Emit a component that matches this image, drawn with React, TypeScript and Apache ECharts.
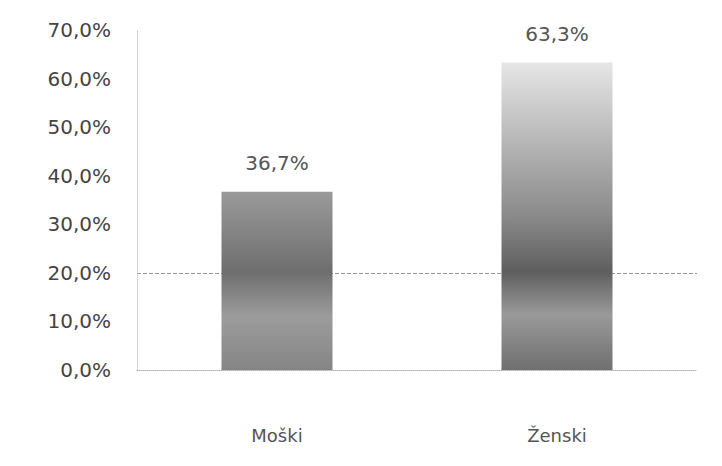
import React, { useEffect, useRef } from "react";
import * as echarts from "echarts";

const categories = ["Moški", "Ženski"];
const values = [36.7, 63.3];
const yTicks = [0, 10, 20, 30, 40, 50, 60, 70];
const gridValue = 20;

const fmt = (v: number) => v.toFixed(1).replace(".", ",") + "%";

export default function App() {
  const ref = useRef<HTMLDivElement>(null);
  useEffect(() => {
    if (!ref.current) return;
    const chart = echarts.init(ref.current, null, { renderer: "svg" });
    const barColors = [
      new echarts.graphic.LinearGradient(0, 0, 0, 1, [
        { offset: 0, color: "#9a9a9a" },
        { offset: 0.45, color: "#6e6e6e" },
        { offset: 0.7, color: "#9c9c9c" },
        { offset: 1, color: "#858585" },
      ]),
      new echarts.graphic.LinearGradient(0, 0, 0, 1, [
        { offset: 0, color: "#e6e6e6" },
        { offset: 0.25, color: "#b8b8b8" },
        { offset: 0.5, color: "#8a8a8a" },
        { offset: 0.68, color: "#5e5e5e" },
        { offset: 0.82, color: "#9a9a9a" },
        { offset: 1, color: "#6f6f6f" },
      ]),
    ];
    chart.setOption({
      animation: false,
      backgroundColor: "#ffffff",
      grid: { left: 137, right: 25, top: 30, bottom: 96 },
      xAxis: {
        type: "category",
        data: categories,
        axisLine: { show: true, lineStyle: { color: "#b0b0b0", type: "dotted", width: 1 } },
        axisTick: { show: false },
        axisLabel: {
          margin: 56,
          fontFamily: "DejaVu Sans",
          fontSize: 18,
          color: "#555555",
        },
      },
      yAxis: {
        type: "value",
        min: yTicks[0],
        max: yTicks[yTicks.length - 1],
        interval: 10,
        axisLine: { show: true, lineStyle: { color: "#c8c8c8", type: "dotted" } },
        axisTick: { show: false },
        splitLine: { show: false },
        axisLabel: {
          margin: 26,
          fontFamily: "DejaVu Sans",
          fontSize: 20,
          color: "#444444",
          formatter: (v: number) => fmt(v),
        },
      },
      series: [
        {
          type: "bar",
          barWidth: 111,
          data: values.map((v, i) => ({ value: v, itemStyle: { color: barColors[i] } })),
          label: {
            show: true,
            position: "top",
            distance: 19,
            fontFamily: "DejaVu Sans",
            fontSize: 20,
            color: "#555555",
            formatter: (p: any) => fmt(p.value),
          },
          markLine: {
            silent: true,
            symbol: "none",
            label: { show: false },
            lineStyle: { color: "#999999", type: "dashed", width: 1 },
            data: [{ yAxis: gridValue }],
            z: 1,
          },
        },
      ],
    });
    return () => chart.dispose();
  }, []);
  return <div ref={ref} style={{ width: 722, height: 466, position: "absolute", left: 0, top: 0 }} />;
}
